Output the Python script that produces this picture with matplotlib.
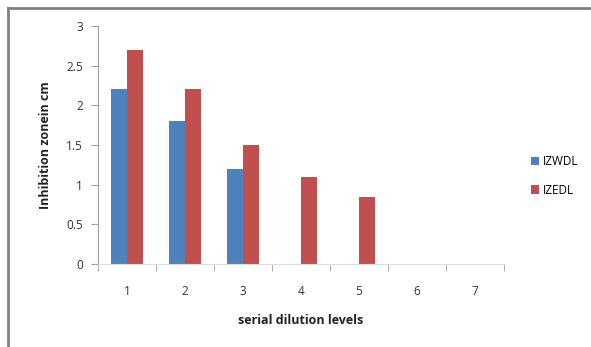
import numpy as np
import matplotlib.pyplot as plt
from matplotlib.lines import Line2D

# Data
levels = ["1", "2", "3", "4", "5", "6", "7"]
izwdl = [2.2, 1.8, 1.2, 0, 0, 0, 0]
izedl = [2.7, 2.2, 1.5, 1.1, 0.85, 0, 0]

blue = "#4f81bd"
red = "#c0504d"
grey = "#a0a0a0"

plt.rcParams['font.family'] = ['Open Sans', 'DejaVu Sans']

fig = plt.figure(figsize=(5.91, 3.47), dpi=100)
ax = fig.add_axes([98 / 591, 1 - 264 / 347, 406 / 591, 238 / 347])

x = np.arange(len(levels))
w = 0.276
ax.bar(x - w / 2, izwdl, w, color=blue, label="IZWDL")
ax.bar(x + w / 2, izedl, w, color=red, label="IZEDL")

ax.set_xlim(-0.5, len(levels) - 0.5)
ax.set_ylim(0, 3)
ax.set_yticks([0, 0.5, 1, 1.5, 2, 2.5, 3])
ax.set_yticklabels(["0", "0.5", "1", "1.5", "2", "2.5", "3"])
ax.set_xticks(x)
ax.set_xticklabels(levels)
ax.tick_params(axis="x", length=0, pad=15, labelsize=8.5, colors="#333333")
ax.tick_params(axis="y", length=5, color=grey, labelsize=8.5, labelcolor="#333333", pad=6)

# category boundary ticks under the x axis
ax.set_xticks(np.arange(-0.5, len(levels)), minor=True)
ax.tick_params(axis="x", which="minor", length=5, color=grey, direction="out")

for s in ["top", "right"]:
    ax.spines[s].set_visible(False)
ax.spines["left"].set_color(grey)
ax.spines["bottom"].set_color("#e0e0e0")

ax.set_ylabel("Inhibition zonein cm", fontsize=9, fontweight="bold", color="#222222", labelpad=10)
ax.set_xlabel("serial dilution levels", fontsize=9, fontweight="bold", color="#222222", labelpad=12)

ax.legend(loc="center left", bbox_to_anchor=(1.04, 0.37), frameon=False, fontsize=8.5,
          handlelength=0.7, handleheight=0.7, handletextpad=0.3, labelspacing=1.3)

# outer frame (left and top only visible)
fig.add_artist(Line2D([8 / 591, 8 / 591], [0, 1 - 8 / 347], color="#808080", lw=2))
fig.add_artist(Line2D([8 / 591, 1], [1 - 8 / 347, 1 - 8 / 347], color="#808080", lw=2))

fig.savefig("out.png", dpi=100)
